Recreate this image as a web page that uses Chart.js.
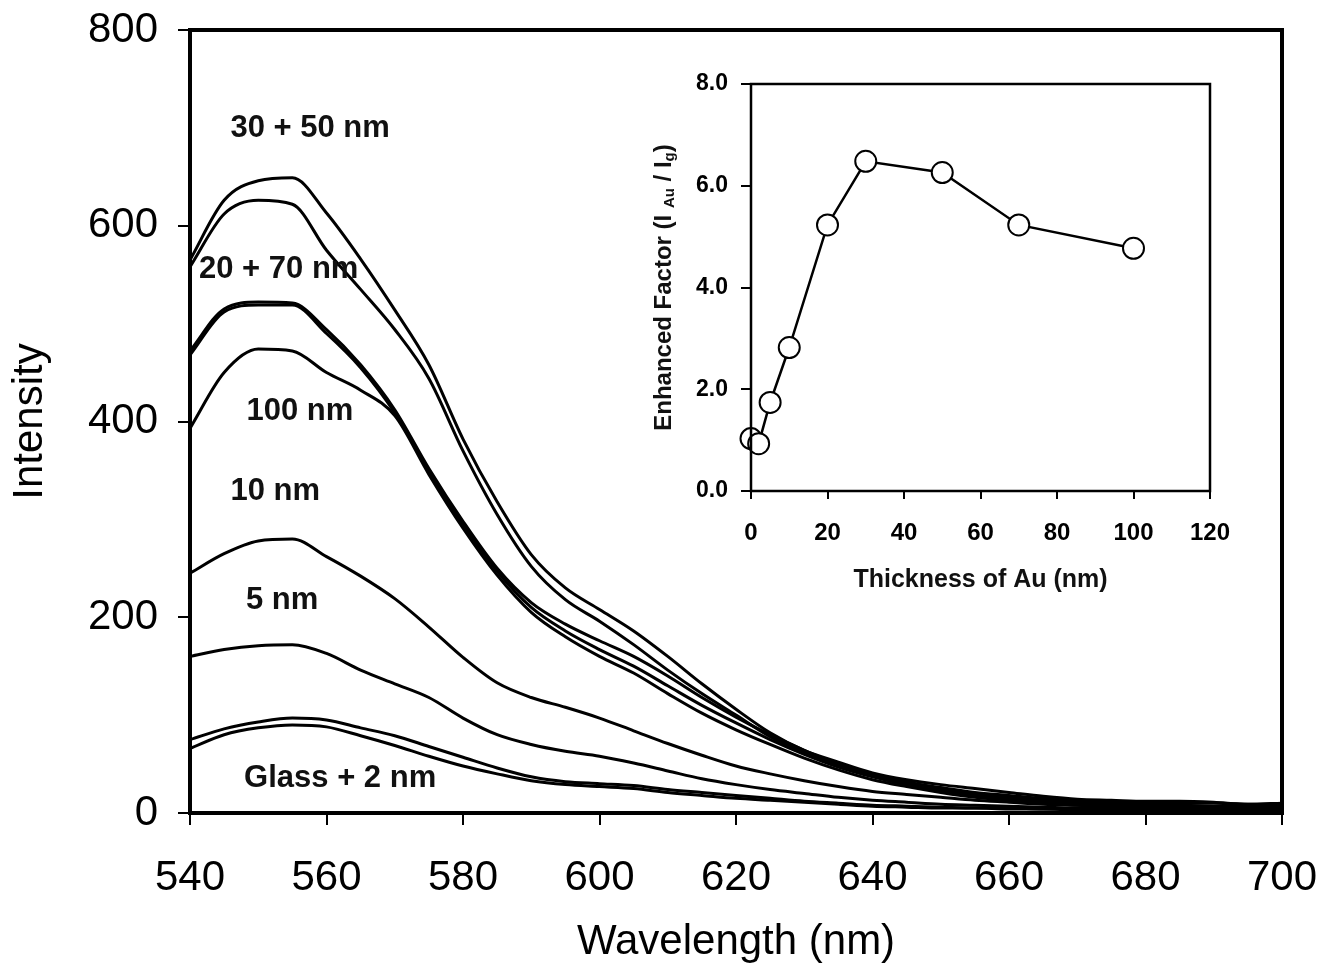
<!DOCTYPE html>
<html>
<head>
<meta charset="utf-8">
<script src="https://cdn.jsdelivr.net/npm/chart.js@4.4.1/dist/chart.umd.min.js"></script>
<style>
  html, body { margin: 0; padding: 0; background: #fff; }
  #wrap { position: relative; width: 1321px; height: 968px; }
  #mainChart { position: absolute; left: 0; top: 0; }
  #insetChart { position: absolute; left: 630px; top: 60px; }
</style>
</head>
<body>
<div id="wrap">
  <canvas id="mainChart" width="1321" height="968"></canvas>
  <canvas id="insetChart" width="620" height="560"></canvas>
</div>
<script>
// emission spectra, every 5 nm
const wavelength = [540, 545, 550, 555, 560, 565, 570, 575, 580, 585, 590, 595, 600, 605, 610, 615,
  620, 625, 630, 635, 640, 645, 650, 655, 660, 665, 670, 675, 680, 685, 690, 695, 700];

const au30  = [565, 626, 646, 649, 613, 566, 514, 458, 382, 318, 264, 230, 208, 186, 160, 132,
  106, 82, 64, 52, 41, 34, 29, 25, 21, 17, 14, 13, 12, 12, 11, 9, 10];
const au50  = [558, 612, 626, 622, 575, 535, 494, 444, 370, 305, 252, 218, 196, 172, 146, 122,
  100, 78, 62, 49, 38, 31, 26, 21, 18, 15, 13, 12, 11, 10, 10, 9, 8];
const au20  = [468, 512, 519, 519, 490, 455, 409, 350, 295, 247, 210, 186, 167, 150, 130, 110,
  92, 75, 60, 47, 37, 29, 23, 18, 14, 11, 9, 8, 7, 6, 5, 5, 4];
const au70  = [472, 515, 522, 521, 494, 458, 412, 352, 298, 250, 215, 193, 176, 160, 140, 118,
  98, 80, 64, 50, 40, 32, 25, 20, 16, 13, 11, 10, 9, 8, 7, 7, 6];
const au100 = [393, 450, 474, 472, 450, 432, 406, 346, 291, 243, 205, 180, 160, 143, 122, 102,
  85, 70, 56, 44, 34, 27, 21, 16, 13, 10, 8, 7, 6, 5, 5, 4, 4];
const au10  = [245, 265, 278, 280, 262, 242, 219, 190, 159, 133, 118, 108, 97, 84, 71, 59,
  48, 40, 33, 27, 22, 19, 16, 13, 11, 9, 8, 7, 6, 5, 5, 4, 4];
const au5   = [160, 167, 171, 172, 163, 146, 132, 118, 97, 80, 70, 63, 58, 51, 43, 35,
  29, 24, 20, 16, 13, 11, 9, 8, 7, 6, 5, 5, 4, 4, 3, 3, 3];
const glass = [75, 86, 93, 97, 95, 87, 79, 68, 57, 46, 37, 32, 30, 28, 24, 21,
  18, 15, 12, 10, 8, 7, 6, 5, 5, 4, 4, 3, 3, 3, 2, 2, 2];
const au2   = [66, 80, 87, 90, 88, 79, 69, 58, 48, 40, 33, 29, 27, 25, 21, 18,
  15, 13, 11, 9, 7, 6, 5, 5, 4, 4, 3, 3, 3, 2, 2, 2, 2];

const spectra = [au30, au50, au20, au70, au100, au10, au5, glass, au2];

const xTickValues = [540, 560, 580, 600, 620, 640, 660, 680, 700];
const yTickValues = [0, 200, 400, 600, 800];

// curve labels, in data units (wavelength, intensity)
const curveLabels = [
  { text: "30 + 50 nm", x: 557.6, y: 699 },
  { text: "20 + 70 nm", x: 553.0, y: 555 },
  { text: "100 nm", x: 556.1, y: 410 },
  { text: "10 nm", x: 552.5, y: 329 },
  { text: "5 nm", x: 553.5, y: 217 },
  { text: "Glass + 2 nm", x: 562.0, y: 35 }
];

// inset: enhancement factor vs Au thickness
const thickness = [0, 2, 5, 10, 20, 30, 50, 70, 100];
const enhancement = [1.03, 0.93, 1.74, 2.82, 5.23, 6.48, 6.26, 5.23, 4.77];
const insetXTicks = [0, 20, 40, 60, 80, 100, 120];
const insetYTicks = [0, 2, 4, 6, 8];

const FONT = "'Liberation Sans', Arial, sans-serif";

const framePlugin = {
  id: "frame",
  afterDatasetsDraw(chart, args, opts) {
    const { ctx, chartArea: a } = chart;
    ctx.save();
    ctx.strokeStyle = "#000";
    ctx.lineWidth = opts.width || 3;
    ctx.strokeRect(a.left, a.top, a.right - a.left, a.bottom - a.top);
    ctx.restore();
  }
};

const labelPlugin = {
  id: "curveLabels",
  afterDraw(chart) {
    const { ctx, scales } = chart;
    ctx.save();
    ctx.fillStyle = "#111";
    ctx.font = "bold 31px " + FONT;
    ctx.textAlign = "center";
    ctx.textBaseline = "middle";
    curveLabels.forEach(l => {
      ctx.fillText(l.text, scales.x.getPixelForValue(l.x), scales.y.getPixelForValue(l.y));
    });
    ctx.restore();
  }
};

// y title of the inset with subscripts
const insetTitlePlugin = {
  id: "insetTitle",
  afterDraw(chart) {
    const { ctx, chartArea: a } = chart;
    const parts = [
      { t: "Enhanced Factor (I ", size: 24, dy: 0 },
      { t: "Au", size: 15, dy: 3 },
      { t: " / I", size: 24, dy: 0 },
      { t: "g", size: 15, dy: 3 },
      { t: ")", size: 24, dy: 0 }
    ];
    ctx.save();
    ctx.translate(a.left - 89, (a.top + a.bottom) / 2);
    ctx.rotate(-Math.PI / 2);
    ctx.fillStyle = "#111";
    ctx.textBaseline = "alphabetic";
    let total = 0;
    parts.forEach(p => {
      ctx.font = "bold " + p.size + "px " + FONT;
      p.w = ctx.measureText(p.t).width;
      total += p.w;
    });
    let x = -total / 2;
    parts.forEach(p => {
      ctx.font = "bold " + p.size + "px " + FONT;
      ctx.fillText(p.t, x, 8.5 + p.dy);
      x += p.w;
    });
    ctx.restore();
  }
};

const tickGrid = len => ({
  drawOnChartArea: false,
  drawTicks: true,
  tickLength: len,
  color: "#000",
  lineWidth: 2
});

// fixed axis sizes, no extra room for overhanging tick labels
const fixX = h => s => { s.height = h; s.paddingLeft = 0; s.paddingRight = 0; };
const fixY = w => s => { s.width = w; s.paddingTop = 0; s.paddingBottom = 0; };

new Chart(document.getElementById("mainChart"), {
  type: "line",
  data: {
    datasets: spectra.map(s => ({
      data: wavelength.map((w, i) => ({ x: w, y: s[i] })),
      borderColor: "#000",
      borderWidth: 3,
      pointRadius: 0,
      cubicInterpolationMode: "monotone",
      fill: false
    }))
  },
  options: {
    responsive: false,
    animation: false,
    devicePixelRatio: 1,
    layout: { padding: { top: 30, right: 39, left: 0, bottom: 0 } },
    plugins: { legend: { display: false }, tooltip: { enabled: false }, frame: { width: 4 } },
    scales: {
      x: {
        type: "linear",
        min: 540,
        max: 700,
        afterBuildTicks: s => { s.ticks = xTickValues.map(v => ({ value: v })); },
        afterFit: fixX(155),
        ticks: { color: "#000", autoSkip: false, maxRotation: 0, padding: 28, font: { family: FONT, size: 42 } },
        grid: tickGrid(12),
        border: { display: false },
        title: {
          display: true,
          text: "Wavelength (nm)",
          color: "#000",
          font: { family: FONT, size: 42 },
          padding: { top: 0, bottom: 0 }
        }
      },
      y: {
        min: 0,
        max: 800,
        afterBuildTicks: s => { s.ticks = yTickValues.map(v => ({ value: v })); },
        afterFit: fixY(190),
        ticks: { color: "#000", autoSkip: false, padding: 20, font: { family: FONT, size: 42 } },
        grid: tickGrid(12),
        border: { display: false },
        title: {
          display: true,
          text: "Intensity",
          color: "#000",
          font: { family: FONT, size: 42 },
          padding: { top: 5, bottom: 0 }
        }
      }
    }
  },
  plugins: [framePlugin, labelPlugin]
});

new Chart(document.getElementById("insetChart"), {
  type: "line",
  data: {
    datasets: [{
      data: thickness.map((t, i) => ({ x: t, y: enhancement[i] })),
      borderColor: "#000",
      borderWidth: 2.5,
      tension: 0,
      pointRadius: 10.5,
      pointBackgroundColor: "#fff",
      pointBorderColor: "#000",
      pointBorderWidth: 2,
      clip: false,
      fill: false
    }]
  },
  options: {
    responsive: false,
    animation: false,
    devicePixelRatio: 1,
    layout: { padding: { top: 24, right: 40, left: 0, bottom: 0 } },
    plugins: { legend: { display: false }, tooltip: { enabled: false }, frame: { width: 2.5 } },
    scales: {
      x: {
        type: "linear",
        min: 0,
        max: 120,
        afterBuildTicks: s => { s.ticks = insetXTicks.map(v => ({ value: v })); },
        afterFit: fixX(129),
        ticks: { color: "#000", autoSkip: false, maxRotation: 0, padding: 20, font: { family: FONT, size: 24, weight: "bold" } },
        grid: tickGrid(8),
        border: { display: false },
        title: {
          display: true,
          text: "Thickness of Au (nm)",
          color: "#111",
          font: { family: FONT, size: 25, weight: "bold" },
          padding: { top: 0, bottom: 25 }
        }
      },
      y: {
        min: 0,
        max: 8,
        afterBuildTicks: s => { s.ticks = insetYTicks.map(v => ({ value: v })); },
        afterFit: fixY(121),
        ticks: {
          color: "#000",
          autoSkip: false,
          padding: 13,
          font: { family: FONT, size: 23, weight: "bold" },
          callback: v => v.toFixed(1)
        },
        grid: tickGrid(10),
        border: { display: false }
      }
    }
  },
  plugins: [framePlugin, insetTitlePlugin]
});
</script>
</body>
</html>
